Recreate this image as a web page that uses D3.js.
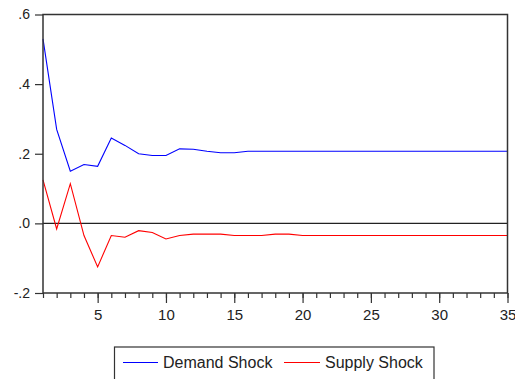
<!DOCTYPE html>
<html>
<head>
<meta charset="utf-8">
<script src="https://cdn.jsdelivr.net/npm/d3@7"></script>
<style>
  html, body { margin: 0; padding: 0; background: #fff; }
  svg { display: block; font-family: "Liberation Sans", Arial, sans-serif; }
</style>
</head>
<body>
<svg id="chart" width="515" height="379"></svg>
<script>
// Response periods
const periods = d3.range(1, 36);

// Impulse responses by period
const demandShock = [0.530, 0.270, 0.150, 0.169, 0.164, 0.245, 0.224, 0.200, 0.195, 0.195,
  0.214, 0.213, 0.207, 0.203, 0.203, 0.207, 0.207, 0.207, 0.207, 0.207,
  0.207, 0.207, 0.207, 0.207, 0.207, 0.207, 0.207, 0.207, 0.207, 0.207,
  0.207, 0.207, 0.207, 0.207, 0.207];
const supplyShock = [0.125, -0.016, 0.114, -0.035, -0.125, -0.035, -0.040, -0.021, -0.026, -0.045,
  -0.035, -0.031, -0.031, -0.031, -0.035, -0.035, -0.035, -0.031, -0.031, -0.035,
  -0.035, -0.035, -0.035, -0.035, -0.035, -0.035, -0.035, -0.035, -0.035, -0.035,
  -0.035, -0.035, -0.035, -0.035, -0.035];

// Axis ticks and labels
const yTicks = [-0.2, 0.0, 0.2, 0.4, 0.6];
const yTickLabels = ["-.2", ".0", ".2", ".4", ".6"];
const xMajorTicks = [5, 10, 15, 20, 25, 30, 35];

const seriesNames = ["Demand Shock", "Supply Shock"];
const seriesColors = ["#0000ff", "#ff0000"];

const svg = d3.select("#chart");
const plot = { left: 43, right: 507.5, top: 14.5, bottom: 293 };

const x = d3.scaleLinear().domain([1, 35]).range([plot.left, plot.right]);
const y = d3.scaleLinear().domain([-0.2, 0.6]).range([plot.bottom, plot.top]);

// Minor x ticks at every period
svg.append("g")
  .attr("transform", `translate(0,${plot.bottom})`)
  .call(d3.axisBottom(x).tickValues(periods).tickSize(5).tickFormat(""))
  .call(g => g.select(".domain").remove())
  .call(g => g.selectAll("line").attr("stroke", "#333").attr("stroke-width", 1.2));

// Major x ticks with labels
svg.append("g")
  .attr("transform", `translate(0,${plot.bottom})`)
  .call(d3.axisBottom(x).tickValues(xMajorTicks).tickSize(10).tickPadding(6).tickFormat(d3.format("d")))
  .call(g => g.select(".domain").remove())
  .call(g => g.selectAll("line").attr("stroke", "#333").attr("stroke-width", 1.2))
  .call(g => g.selectAll("text").attr("fill", "#222").attr("font-size", "15px")
    .attr("font-family", "'Liberation Sans', Arial, sans-serif"));

// Y axis
svg.append("g")
  .attr("transform", `translate(${plot.left},0)`)
  .call(d3.axisLeft(y).tickValues(yTicks).tickSize(8).tickPadding(5)
    .tickFormat((d, i) => yTickLabels[i]))
  .call(g => g.select(".domain").remove())
  .call(g => g.selectAll("line").attr("stroke", "#333").attr("stroke-width", 1.2))
  .call(g => g.selectAll("text").attr("fill", "#222").attr("font-size", "14px")
    .attr("font-family", "'Liberation Sans', Arial, sans-serif"));

// Zero line
svg.append("line")
  .attr("x1", plot.left).attr("x2", plot.right)
  .attr("y1", y(0)).attr("y2", y(0))
  .attr("stroke", "#222").attr("stroke-width", 1.2);

// Series lines
const line = d3.line().x((d, i) => x(periods[i])).y(d => y(d));
[demandShock, supplyShock].forEach((s, k) => {
  svg.append("path")
    .datum(s)
    .attr("fill", "none")
    .attr("stroke", seriesColors[k])
    .attr("stroke-width", 1.1)
    .attr("d", line);
});

// Plot frame
svg.append("rect")
  .attr("x", plot.left).attr("y", plot.top)
  .attr("width", plot.right - plot.left).attr("height", plot.bottom - plot.top)
  .attr("fill", "none").attr("stroke", "#333").attr("stroke-width", 1.5);

// Legend
const legend = svg.append("g");
legend.append("rect")
  .attr("x", 114.5).attr("y", 347)
  .attr("width", 319.5).attr("height", 40)
  .attr("fill", "#fff").attr("stroke", "#333").attr("stroke-width", 1.2);
const legendItems = [{ x1: 123, x2: 158, tx: 163 }, { x1: 284, x2: 320, tx: 325 }];
legendItems.forEach((it, k) => {
  legend.append("line")
    .attr("x1", it.x1).attr("x2", it.x2)
    .attr("y1", 362.5).attr("y2", 362.5)
    .attr("stroke", seriesColors[k]).attr("stroke-width", 1.2);
  legend.append("text")
    .attr("x", it.tx).attr("y", 368)
    .attr("font-size", "16px").attr("fill", "#222")
    .text(seriesNames[k]);
});
</script>
</body>
</html>
